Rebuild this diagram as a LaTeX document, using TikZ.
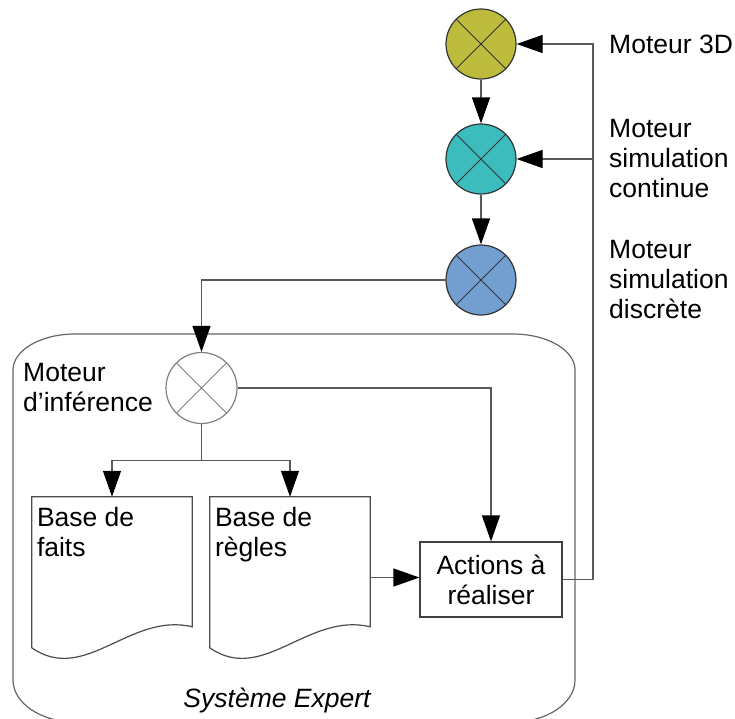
\documentclass[tikz,border=0pt]{standalone}
\usepackage{fontspec}
\setmainfont{Liberation Sans}
\usetikzlibrary{arrows.meta, positioning, calc}

\definecolor{olive3d}{HTML}{BDBB3C}
\definecolor{cyansim}{HTML}{3CBCBC}
\definecolor{bluesim}{HTML}{729FCF}

\begin{document}
\begin{tikzpicture}[x=1pt, y=-1pt,
        font=\fontsize{26.5}{30}\selectfont,
        xcircle/.style={circle, draw=#1, line width=1.2pt, minimum size=70pt, inner sep=0pt,
            path picture={\draw[#1, line width=1pt]
                (path picture bounding box.north west) -- (path picture bounding box.south east)
                (path picture bounding box.north east) -- (path picture bounding box.south west);}},
        moteur/.style={xcircle=black!80},
        infer/.style={xcircle=black!50, minimum size=71pt},
        container/.style={draw=black!60, line width=1.2pt},
        docu/.style={rectangle, minimum width=160pt, minimum height=161pt, inner sep=0pt},
        docline/.style={draw=black!70, line width=1.2pt},
        actbox/.style={rectangle, draw=black!75, line width=1.2pt, minimum width=142pt, minimum height=75pt, align=center, inner sep=0pt},
        txt/.style={inner sep=0pt, align=left},
        msg/.style={-{Triangle[length=26pt, width=18pt, color=black]}, draw=black!65, line width=1.2pt},
        wire/.style={draw=black!65, line width=1.2pt}
    ]
    \useasboundingbox (0,0) rectangle (735,718);

    % systeme expert
    \draw[container] (13,370) .. controls (13,350) and (41,334) .. (75,334) -- (513,334)
        .. controls (547,334) and (575,350) .. (575,370) -- (575,680)
        .. controls (575,703) and (547,722) .. (513,722) -- (75,722)
        .. controls (41,722) and (13,703) .. (13,680) -- cycle;
    \node[anchor=base] (sysTxt) at (277,707) {\itshape Système Expert};

    % moteurs
    \node[moteur, fill=olive3d] (m3d) at (481,44) {};
    \node[moteur, fill=cyansim] (msc) at (481,159) {};
    \node[moteur, fill=bluesim] (msd) at (481,280) {};
    \node[infer] (inf) at (201.5,388) {};

    \coordinate (lblx) at (609,0);
    \node[txt, anchor=west] (m3dTxt) at (lblx |- m3d) {Moteur 3D};
    \node[txt, anchor=west] (mscTxt) at (lblx |- msc) {Moteur\\simulation\\continue};
    \node[txt, anchor=west] (msdTxt) at (lblx |- msd) {Moteur\\simulation\\discrète};
    \node[txt, anchor=west] (infTxt) at (23,388) {Moteur\\d’inférence};

    % bases
    \node[docu] (faits) at (112,577.5) {};
    \node[docu] (regles) at (290,577.5) {};
    \foreach \d in {faits, regles}
        \draw[docline] (\d.north west) -- ++(0,151) .. controls +(53,37) and +(-62,-15) .. ($(\d.north east)+(0,130)$) -- (\d.north east) -- cycle;
    \node[txt, anchor=north west] (faitsTxt) at ([xshift=5pt, yshift=-10pt]faits.north west) {Base de\\faits};
    \node[txt, anchor=north west] (reglesTxt) at ([xshift=5pt, yshift=-10pt]regles.north west) {Base de\\règles};

    \node[actbox] (actions) at (491,579.5) {Actions à\\réaliser};

    % liaisons
    \draw[msg] (m3d) -- (msc);
    \draw[msg] (msc) -- (msd);
    \draw[msg] (msd.west) -| (inf.north);
    \draw[msg] (inf.east) -| (actions.north);
    \draw[wire] (inf.south) -- ++(0,36) coordinate (split);
    \draw[msg] (split) -| (faits.north);
    \draw[msg] (split) -| (regles.north);
    \draw[msg] (regles.east) -- (regles.east -| actions.west);
    \coordinate (bus) at (593,0);
    \draw[msg] (actions.east) -| (bus |- m3d) -- (m3d.east);
    \draw[msg] (bus |- msc) -- (msc.east);
\end{tikzpicture}
\end{document}
